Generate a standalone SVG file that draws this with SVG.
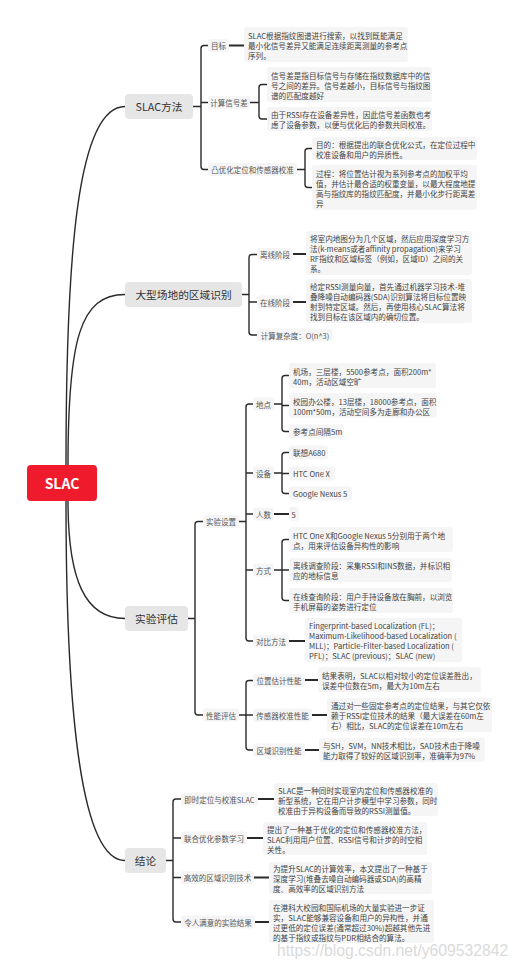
<svg xmlns="http://www.w3.org/2000/svg" width="519" height="971" viewBox="0 0 519 971">
<style>
text{font-family:"Noto Sans CJK SC","Noto Sans",sans-serif;dominant-baseline:central}
.root rect{fill:#ef1b2c}
.root text{fill:#fff;font-size:14px;font-weight:bold;text-anchor:middle}
.main rect{fill:#e6e6e6}
.main text{fill:#333;font-size:10.7px;text-anchor:middle}
.sub rect{fill:#f5f5f5}
.sub text{fill:#555;font-size:7.5px;text-anchor:middle}
.leaf rect{fill:#f5f5f5}
.leaf text{fill:#444;font-size:7.6px}
.conn path{fill:none;stroke:#2a2a2a;stroke-width:1.4;stroke-linecap:round}
.conn .stub{stroke-width:1.8}
.wm{font-family:"Liberation Sans",Arial,sans-serif;font-size:15.7px;fill:#dadada;dominant-baseline:auto}
</style>
<rect width="519" height="971" fill="#fff"/>
<g id="connectors" class="conn">
<path d="M66,465 C66,250 78,106.5 125,106.5"/>
<path d="M68,465 C68,340 80,294.5 125,294.5"/>
<path d="M68,501 C68,580 85,618.5 125,618.5"/>
<path d="M66,501 C66,720 82,860.5 125,860.5"/>
<path d="M193,106.5 H201 M208,45.5 H204 Q201,45.5 201,48.5 V166.5 Q201,169.5 204,169.5 H208 M201,102.5 H208"/>
<path class="stub" d="M229,45.5 H244"/>
<path d="M250,102.5 H259 M267,84.5 H262 Q259,84.5 259,87.5 V116 Q259,119 262,119 H267"/>
<path d="M297,169.5 H305 M312,148.5 H308 Q305,148.5 305,151.5 V184.5 Q305,187.5 308,187.5 H312"/>
<path d="M242,294.5 H249 M257,254.5 H252 Q249,254.5 249,257.5 V332 Q249,335 252,335 H257 M249,302 H257"/>
<path class="stub" d="M293,254 H306 M293,302 H306"/>
<path d="M188,618.5 H195 M203,521.5 H198 Q195,521.5 195,524.5 V712 Q195,715 198,715 H203"/>
<path d="M239,521.5 H246 M253,404 H249 Q246,404 246,407 V638 Q246,641 249,641 H253 M246,473 H253 M246,514 H253 M246,570 H253"/>
<path d="M274,404 H282 M289,375.5 H285 Q282,375.5 282,378.5 V428.5 Q282,431.5 285,431.5 H289 M282,405.5 H289"/>
<path d="M274,473 H282 M289,452.5 H285 Q282,452.5 282,455.5 V490.5 Q282,493.5 285,493.5 H289 M282,473.5 H289"/>
<path class="stub" d="M274,514 H289"/>
<path d="M274,570 H282 M289,539.5 H285 Q282,539.5 282,542.5 V597.5 Q282,600.5 285,600.5 H289 M282,570 H289"/>
<path class="stub" d="M289,641 H305"/>
<path d="M239,715 H246 M253,680.5 H249 Q246,680.5 246,683.5 V747 Q246,750 249,750 H253 M246,715 H253"/>
<path class="stub" d="M305,680 H318 M312,715 H327 M305,750 H319"/>
<path d="M166,860.5 H173 M181,799 H176 Q173,799 173,802 V919 Q173,922 176,922 H181 M173,838 H181 M173,877.5 H181"/>
<path class="stub" d="M258,799 H274 M247,838 H263 M254,877.5 H269 M255,922 H269"/>
</g>

<g id="root" class="root"><rect x="27" y="465" width="70" height="36" rx="4"/><text x="62" y="483">SLAC</text></g>

<g id="n-method" class="main"><rect x="125" y="94" width="68" height="25" rx="4"/><text x="159" y="106.5">SLAC方法</text></g>
<g id="n-zone" class="main"><rect x="125" y="282" width="117" height="25" rx="4"/><text x="183.5" y="294.5">大型场地的区域识别</text></g>
<g id="n-eval" class="main"><rect x="125" y="606" width="63" height="25" rx="4"/><text x="156.5" y="618.5">实验评估</text></g>
<g id="n-concl" class="main"><rect x="125" y="848" width="41" height="25" rx="4"/><text x="145.5" y="860.5">结论</text></g>

<g id="n-goal" class="sub"><rect x="208" y="39" width="21" height="13" rx="3"/><text x="218.5" y="45.5">目标</text></g>
<g id="n-diff" class="sub"><rect x="208" y="96" width="42" height="13" rx="3"/><text x="229" y="102.5">计算信号差</text></g>
<g id="n-convex" class="sub"><rect x="208" y="163" width="89" height="13" rx="3"/><text x="252.5" y="169.5">凸优化定位和传感器校准</text></g>
<g id="n-offline" class="sub"><rect x="257" y="248" width="36" height="13" rx="3"/><text x="275" y="254.5">离线阶段</text></g>
<g id="n-online" class="sub"><rect x="257" y="295.5" width="36" height="13" rx="3"/><text x="275" y="302">在线阶段</text></g>
<g id="n-complex" class="sub"><rect x="257" y="328.5" width="76" height="13" rx="3"/><text x="295" y="335">计算复杂度：O(n^3)</text></g>
<g id="n-setup" class="sub"><rect x="203" y="515" width="36" height="13" rx="3"/><text x="221" y="521.5">实验设置</text></g>
<g id="n-perf" class="sub"><rect x="203" y="708.5" width="36" height="13" rx="3"/><text x="221" y="715">性能评估</text></g>
<g id="n-site" class="sub"><rect x="253" y="397.5" width="21" height="13" rx="3"/><text x="263.5" y="404">地点</text></g>
<g id="n-device" class="sub"><rect x="253" y="466.5" width="21" height="13" rx="3"/><text x="263.5" y="473">设备</text></g>
<g id="n-people" class="sub"><rect x="253" y="507.5" width="21" height="13" rx="3"/><text x="263.5" y="514">人数</text></g>
<g id="n-mode" class="sub"><rect x="253" y="563.5" width="21" height="13" rx="3"/><text x="263.5" y="570">方式</text></g>
<g id="n-compare" class="sub"><rect x="253" y="634.5" width="36" height="13" rx="3"/><text x="271" y="641">对比方法</text></g>
<g id="n-posperf" class="sub"><rect x="253" y="674" width="52" height="13" rx="3"/><text x="279" y="680.5">位置估计性能</text></g>
<g id="n-calperf" class="sub"><rect x="253" y="708.5" width="59" height="13" rx="3"/><text x="282.5" y="715">传感器校准性能</text></g>
<g id="n-zoneperf" class="sub"><rect x="253" y="743.5" width="52" height="13" rx="3"/><text x="279" y="750">区域识别性能</text></g>
<g id="n-slac" class="sub"><rect x="181" y="792.5" width="77" height="13" rx="3"/><text x="219.5" y="799">即时定位与校准SLAC</text></g>
<g id="n-joint" class="sub"><rect x="181" y="831.5" width="66" height="13" rx="3"/><text x="214" y="838">联合优化参数学习</text></g>
<g id="n-effzone" class="sub"><rect x="181" y="871" width="73" height="13" rx="3"/><text x="217.5" y="877.5">高效的区域识别技术</text></g>
<g id="n-result" class="sub"><rect x="181" y="915.5" width="74" height="13" rx="3"/><text x="218" y="922">令人满意的实验结果</text></g>

<g id="l-goal" class="leaf"><rect x="244" y="27" width="164" height="35" rx="3"/><text><tspan x="248" y="34.5">SLAC根据指纹图谱进行搜索，以找到既能满足</tspan><tspan x="248" y="44.5">最小化信号差异又能满足连续距离测量的参考点</tspan><tspan x="248" y="54.5">序列。</tspan></text></g>
<g id="l-diff1" class="leaf"><rect x="267" y="67" width="165" height="35" rx="3"/><text><tspan x="271" y="74.5">信号差是指目标信号与存储在指纹数据库中的信</tspan><tspan x="271" y="84.5">号之间的差异。信号差越小，目标信号与指纹图</tspan><tspan x="271" y="94.5">谱的匹配度越好</tspan></text></g>
<g id="l-diff2" class="leaf"><rect x="267" y="107" width="165" height="24" rx="3"/><text><tspan x="271" y="114">由于RSSI存在设备差异性，因此信号差函数也考</tspan><tspan x="271" y="124">虑了设备参数，以便与优化后的参数共同校准。</tspan></text></g>
<g id="l-conv1" class="leaf"><rect x="312" y="137" width="165" height="23" rx="3"/><text><tspan x="316" y="143.5">目的：根据提出的联合优化公式，在定位过程中</tspan><tspan x="316" y="153.5">校准设备和用户的异质性。</tspan></text></g>
<g id="l-conv2" class="leaf"><rect x="312" y="165" width="165" height="45" rx="3"/><text><tspan x="316" y="172.5">过程：将位置估计视为系列参考点的加权平均</tspan><tspan x="316" y="182.5">值，并估计最合适的权重变量，以最大程度地提</tspan><tspan x="316" y="192.5">高与指纹库的指纹匹配度，并最小化步行距离差</tspan><tspan x="316" y="202.5">异</tspan></text></g>
<g id="l-offline" class="leaf"><rect x="306" y="231" width="166" height="44" rx="3"/><text><tspan x="310" y="238">将室内地图分为几个区域，然后应用深度学习方</tspan><tspan x="310" y="248">法(k-means或者affinity propagation)来学习</tspan><tspan x="310" y="258">RF指纹和区域标签（例如，区域ID）之间的关</tspan><tspan x="310" y="268">系。</tspan></text></g>
<g id="l-online" class="leaf"><rect x="306" y="279" width="166" height="44" rx="3"/><text><tspan x="310" y="286">给定RSSI测量向量，首先通过机器学习技术-堆</tspan><tspan x="310" y="296">叠降噪自动编码器(SDA)识别算法将目标位置映</tspan><tspan x="310" y="306">射到特定区域。然后，再使用核心SLAC算法将</tspan><tspan x="310" y="316">找到目标在该区域内的确切位置。</tspan></text></g>
<g id="l-site1" class="leaf"><rect x="289" y="363" width="147" height="25" rx="3"/><text><tspan x="293" y="370.5">机场，三层楼，5500参考点，面积200m*</tspan><tspan x="293" y="380.5">40m，活动区域空旷</tspan></text></g>
<g id="l-site2" class="leaf"><rect x="289" y="393" width="148" height="25" rx="3"/><text><tspan x="293" y="400.5">校园办公楼，13层楼，18000参考点，面积</tspan><tspan x="293" y="410.5">100m*50m，活动空间多为走廊和办公区</tspan></text></g>
<g id="l-site3" class="leaf"><rect x="289" y="424.5" width="55" height="14" rx="3"/><text x="293" y="431.5">参考点间隔5m</text></g>
<g id="l-dev1" class="leaf"><rect x="289" y="445.5" width="39" height="14" rx="3"/><text x="293" y="452.5">联想A680</text></g>
<g id="l-dev2" class="leaf"><rect x="289" y="466.5" width="46" height="14" rx="3"/><text x="293" y="473.5">HTC One X</text></g>
<g id="l-dev3" class="leaf"><rect x="289" y="486.5" width="63" height="14" rx="3"/><text x="293" y="493.5">Google Nexus 5</text></g>
<g id="l-people" class="leaf"><rect x="289" y="507" width="10" height="14" rx="3"/><text x="291.5" y="514">5</text></g>
<g id="l-mode1" class="leaf"><rect x="289" y="527" width="164" height="25" rx="3"/><text><tspan x="293" y="534.5">HTC One X和Google Nexus 5分别用于两个地</tspan><tspan x="293" y="544.5">点，用来评估设备异构性的影响</tspan></text></g>
<g id="l-mode2" class="leaf"><rect x="289" y="558" width="163" height="24" rx="3"/><text><tspan x="293" y="565">离线调查阶段：采集RSSI和INS数据，并标识相</tspan><tspan x="293" y="575">应的地标信息</tspan></text></g>
<g id="l-mode3" class="leaf"><rect x="289" y="588" width="164" height="25" rx="3"/><text><tspan x="293" y="595.5">在线查询阶段：用户手持设备放在胸前，以浏览</tspan><tspan x="293" y="605.5">手机屏幕的姿势进行定位</tspan></text></g>
<g id="l-compare" class="leaf"><rect x="305" y="618" width="157" height="44" rx="3"/><text><tspan x="309" y="625">Fingerprint-based Localization (FL)；</tspan><tspan x="309" y="635">Maximum-Likelihood-based Localization (</tspan><tspan x="309" y="645">MLL)；Particle-Filter-based Localization (</tspan><tspan x="309" y="655">PFL)；SLAC (previous)；SLAC (new)</tspan></text></g>
<g id="l-posperf" class="leaf"><rect x="318" y="667" width="163" height="25" rx="3"/><text><tspan x="322" y="674.5">结果表明，SLAC以相对较小的定位误差胜出，</tspan><tspan x="322" y="684.5">误差中位数在5m，最大为10m左右</tspan></text></g>
<g id="l-calperf" class="leaf"><rect x="327" y="698" width="165" height="34" rx="3"/><text><tspan x="331" y="705">通过对一些固定参考点的定位结果，与其它仅依</tspan><tspan x="331" y="715">赖于RSSI定位技术的结果（最大误差在60m左</tspan><tspan x="331" y="725">右）相比，SLAC的定位误差在10m左右</tspan></text></g>
<g id="l-zoneperf" class="leaf"><rect x="319" y="738" width="166" height="24" rx="3"/><text><tspan x="323" y="745">与SH，SVM，NN技术相比，SAD技术由于降噪</tspan><tspan x="323" y="755">能力取得了较好的区域识别率，准确率为97%</tspan></text></g>
<g id="l-slac" class="leaf"><rect x="274" y="783" width="164" height="33" rx="3"/><text><tspan x="278" y="789.5">SLAC是一种同时实现室内定位和传感器校准的</tspan><tspan x="278" y="799.5">新型系统，它在用户计步模型中学习参数，同时</tspan><tspan x="278" y="809.5">校准由于异构设备而导致的RSSI测量值。</tspan></text></g>
<g id="l-joint" class="leaf"><rect x="263" y="822" width="164" height="33" rx="3"/><text><tspan x="267" y="828.5">提出了一种基于优化的定位和传感器校准方法，</tspan><tspan x="267" y="838.5">SLAC利用用户位置、RSSI信号和计步的时空相</tspan><tspan x="267" y="848.5">关性。</tspan></text></g>
<g id="l-effzone" class="leaf"><rect x="269" y="862" width="163" height="32" rx="3"/><text><tspan x="273" y="868">为提升SLAC的计算效率，本文提出了一种基于</tspan><tspan x="273" y="878">深度学习(堆叠去噪自动编码器或SDA)的高精</tspan><tspan x="273" y="888">度、高效率的区域识别方法</tspan></text></g>
<g id="l-result" class="leaf"><rect x="269" y="900" width="165" height="43" rx="3"/><text><tspan x="273" y="906.5">在港科大校园和国际机场的大量实验进一步证</tspan><tspan x="273" y="916.5">实，SLAC能够兼容设备和用户的异构性，并通</tspan><tspan x="273" y="926.5">过更低的定位误差(通常超过30%)超越其他先进</tspan><tspan x="273" y="936.5">的基于指纹或指纹与PDR相结合的算法。</tspan></text></g>

<text class="wm" x="277" y="956">https://blog.csdn.net/y609532842</text>
</svg>
